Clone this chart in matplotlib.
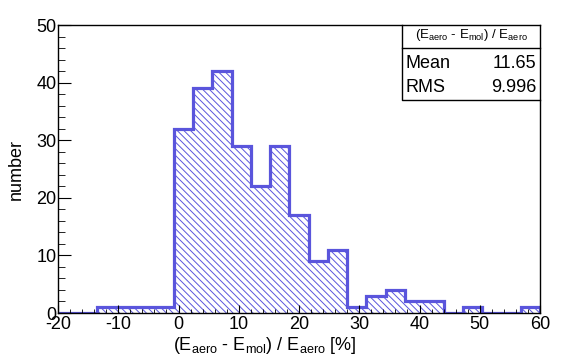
import matplotlib
matplotlib.use("Agg")
import matplotlib.pyplot as plt
import numpy as np

plt.rcParams['font.family'] = ['Liberation Sans', 'DejaVu Sans']
plt.rcParams['mathtext.fontset'] = 'custom'
plt.rcParams['mathtext.rm'] = 'Liberation Sans'
plt.rcParams['mathtext.it'] = 'Liberation Sans'
plt.rcParams['hatch.linewidth'] = 0.7
plt.rcParams['axes.unicode_minus'] = False

# histogramm: 25 bins von -20 bis 60
bin_edges = np.linspace(-20, 60, 26)
counts = [0, 0, 1, 1, 1, 1, 32, 39, 42, 29, 22, 29, 17, 9, 11,
          1, 3, 4, 2, 2, 0, 1, 0, 0, 1]
stat_names = ["Mean", "RMS"]
stat_values = ["11.65", "9.996"]
x_ticks = [-20, -10, 0, 10, 20, 30, 40, 50, 60]
y_ticks = [0, 10, 20, 30, 40, 50]

blau = '#5a55dc'

fig = plt.figure(figsize=(5.87, 3.59), dpi=100)
ax = fig.add_axes([58/587, 1 - 313/359, 482/587, 288/359])

# schraffur und umriss
ax.stairs(counts, bin_edges, fill=True, facecolor='none', edgecolor=blau,
          hatch='\\\\\\\\\\', linewidth=0)
ax.stairs(counts, bin_edges, color=blau, linewidth=2.3)

ax.set_xlim(-20, 60)
ax.set_ylim(0, 50)
ax.set_xticks(x_ticks)
ax.set_yticks(y_ticks)
ax.set_xticks(np.arange(-20, 61, 2), minor=True)
ax.set_yticks(np.arange(0, 51, 2), minor=True)
ax.tick_params(axis='both', which='both', direction='in', labelsize=13)
ax.tick_params(axis='x', which='major', length=6, pad=2)
ax.tick_params(axis='x', which='minor', length=3)
ax.tick_params(axis='y', which='major', length=9.5, pad=1)
ax.tick_params(axis='y', which='minor', length=5)
for s in ax.spines.values():
    s.set_linewidth(1.0)

ax.set_xlabel(r'(E$_{\rm aero}$ - E$_{\rm mol}$) / E$_{\rm aero}$ [%]', fontsize=13, labelpad=0)
ax.xaxis.set_label_coords(0.43, -0.075)
fig.text(16/587, 1 - 170/359, 'number', rotation=90, ha='center', va='center', fontsize=13)

# statistik-box
bx0, bx1 = (402 - 58) / 482, 1.0
by_sep = (313 - 48) / 288
by0 = (313 - 100) / 288
ax.plot([bx0, bx0, bx1], [1.0, by0, by0], color='black', lw=1.0,
        transform=ax.transAxes, clip_on=False)
ax.plot([bx0, bx1], [by_sep, by_sep], color='black', lw=1.0,
        transform=ax.transAxes, clip_on=False)
ax.text((bx0 + bx1) / 2, (1 + by_sep) / 2 + 0.005,
        r'(E$_{\rm aero}$ - E$_{\rm mol}$) / E$_{\rm aero}$',
        transform=ax.transAxes, ha='center', va='center', fontsize=9.5)
row_y = [(313 - 63) / 288, (313 - 88) / 288]
for name, val, yy in zip(stat_names, stat_values, row_y):
    ax.text(bx0 + 0.008, yy, name, transform=ax.transAxes,
            ha='left', va='center', fontsize=13)
    ax.text(bx1 - 0.008, yy, val, transform=ax.transAxes,
            ha='right', va='center', fontsize=13)

fig.savefig('out.png', dpi=100)
